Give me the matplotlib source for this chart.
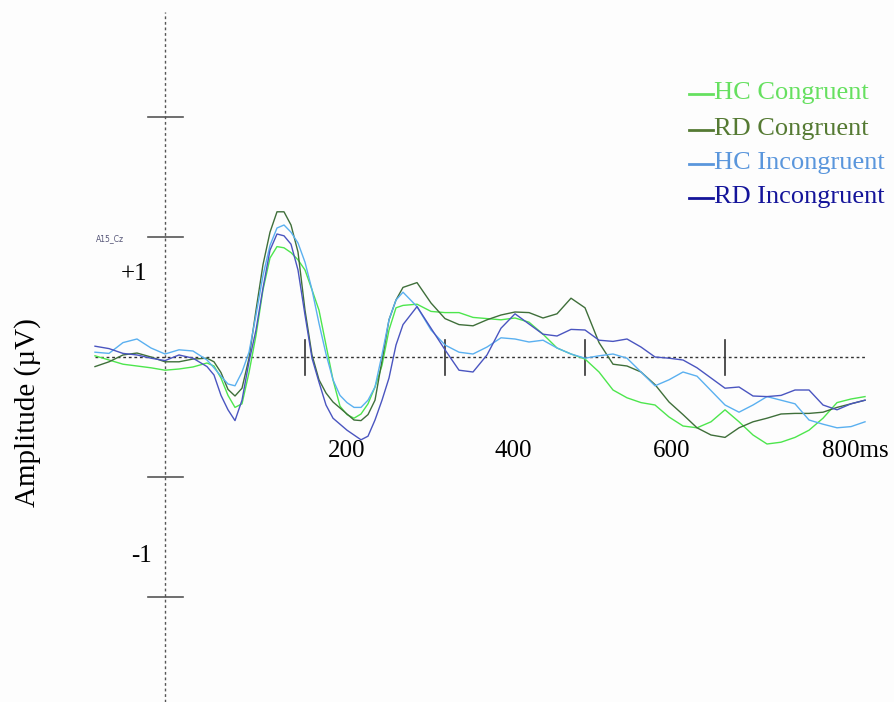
import numpy as np
import matplotlib
matplotlib.use("Agg")
import matplotlib.pyplot as plt
from matplotlib.lines import Line2D

# time points (ms)
times = [-100, -80, -60, -40, -20, 0, 20, 40, 60, 70, 80, 90, 100, 110, 120, 130,
         140, 150, 160, 170, 180, 190, 200, 210, 220, 230, 240, 250, 260, 270, 280,
         290, 300, 310, 320, 330, 340, 360, 380, 400, 420, 440, 460, 480, 500, 520,
         540, 560, 580, 600, 620, 640, 660, 680, 700, 720, 740, 760, 780, 800, 820,
         840, 860, 880, 900, 920, 940, 960, 980, 1000]

# amplitudes (uV)
hc_congruent = [0.01, -0.025, -0.06, -0.075, -0.09, -0.11, -0.10, -0.083, -0.05, -0.075,
                -0.175, -0.32, -0.42, -0.39, -0.13, 0.18, 0.56, 0.825, 0.92, 0.91, 0.87,
                0.81, 0.725, 0.56, 0.39, 0.10, -0.19, -0.41, -0.48, -0.51, -0.475, -0.39,
                -0.25, -0.07, 0.225, 0.41, 0.43, 0.44, 0.38, 0.37, 0.37, 0.33, 0.32, 0.31,
                0.325, 0.29, 0.19, 0.075, 0.025, -0.017, -0.125, -0.275, -0.34, -0.38,
                -0.40, -0.50, -0.575, -0.59, -0.54, -0.44, -0.54, -0.65, -0.725, -0.71,
                -0.67, -0.61, -0.51, -0.38, -0.35, -0.33]

rd_congruent = [-0.08, -0.04, 0.017, 0.033, 0.0, -0.04, -0.04, -0.017, -0.01, -0.04,
                -0.13, -0.27, -0.325, -0.26, -0.01, 0.39, 0.77, 1.04, 1.21, 1.21, 1.10,
                0.875, 0.39, 0.017, -0.19, -0.30, -0.375, -0.425, -0.475, -0.525, -0.53,
                -0.48, -0.36, -0.03, 0.31, 0.475, 0.58, 0.62, 0.45, 0.32, 0.27, 0.26, 0.31,
                0.35, 0.375, 0.37, 0.325, 0.36, 0.49, 0.41, 0.12, -0.06, -0.075, -0.125,
                -0.23, -0.375, -0.48, -0.59, -0.65, -0.67, -0.59, -0.54, -0.51, -0.475,
                -0.47, -0.47, -0.46, -0.42, -0.39, -0.36]

hc_incongruent = [0.04, 0.03, 0.12, 0.15, 0.075, 0.025, 0.06, 0.05, -0.025, -0.09,
                  -0.16, -0.225, -0.24, -0.125, 0.04, 0.35, 0.68, 0.93, 1.075, 1.10, 1.04,
                  0.95, 0.79, 0.56, 0.28, 0.025, -0.19, -0.32, -0.38, -0.42, -0.42, -0.36,
                  -0.25, 0.02, 0.31, 0.475, 0.54, 0.42, 0.225, 0.10, 0.04, 0.025, 0.083,
                  0.16, 0.15, 0.125, 0.14, 0.075, 0.025, -0.01, 0.01, 0.025, -0.01, -0.125,
                  -0.24, -0.19, -0.125, -0.16, -0.28, -0.40, -0.46, -0.40, -0.33, -0.36,
                  -0.39, -0.525, -0.56, -0.59, -0.58, -0.54]

rd_incongruent = [0.09, 0.07, 0.03, 0.017, -0.01, -0.03, 0.017, -0.01, -0.08, -0.15,
                  -0.32, -0.44, -0.53, -0.36, -0.04, 0.225, 0.575, 0.89, 1.025, 1.01, 0.94,
                  0.725, 0.35, -0.01, -0.21, -0.40, -0.51, -0.56, -0.61, -0.65, -0.69,
                  -0.66, -0.525, -0.36, -0.175, 0.10, 0.27, 0.42, 0.24, 0.06, -0.11, -0.125,
                  0.017, 0.24, 0.36, 0.275, 0.19, 0.175, 0.23, 0.225, 0.14, 0.13, 0.15,
                  0.083, 0.0, -0.01, -0.025, -0.09, -0.175, -0.26, -0.25, -0.325, -0.33,
                  -0.32, -0.275, -0.275, -0.40, -0.44, -0.39, -0.36]

labels = ["HC Congruent", "RD Congruent", "HC Incongruent", "RD Incongruent"]
line_colors = ["#4de64d", "#3f6f3a", "#5ab0f0", "#4a55c0"]
text_colors = ["#66e060", "#557a33", "#5a96dc", "#14149a"]
x_ticks = [200, 400, 600, 800]
x_labels = ["200", "400", "600", "800ms"]
y_ticks = [2, 1, -1, -2]

serif = "Liberation Serif"
W, H = 894, 702

fig = plt.figure(figsize=(8.94, 7.02), dpi=100)
fig.patch.set_facecolor("#fdfdfd")
ax = fig.add_axes([0, 0, 1, 1])
ax.set_facecolor("#fdfdfd")
ax.set_xlim(-235.7, 1041.4)
ax.set_ylim(-2.875, 2.975)
ax.axis("off")

# axes drawn as in the ERP viewer
ax.plot([0, 0], [-2.875, 2.875], color="#555555", lw=1.0, ls=(0, (2, 2)))
ax.plot([-100, 1000], [0, 0], color="#333333", lw=1.0, ls=(0, (2, 2)))
for v in y_ticks:
    ax.plot([-24, 26], [v, v], color="#555555", lw=1.2)
for t in x_ticks:
    ax.plot([t, t], [0.14, -0.15], color="#333333", lw=1.2)

for series, c in zip([hc_congruent, rd_congruent, hc_incongruent, rd_incongruent], line_colors):
    ax.plot(times, series, color=c, lw=1.0, solid_joinstyle="round")

# tick labels
ax.text(-44, 0.69, "+1", fontsize=18, family=serif, ha="center", va="center")
ax.text(-34, -1.66, "-1", fontsize=18, family=serif, ha="center", va="center")
xlab_pos = [347, 513, 672, 822]
for t, lab, px in zip(x_ticks, x_labels, xlab_pos):
    ax.text((px - 165) / 0.7, -0.78, lab, fontsize=18, family=serif,
            ha="left" if lab.endswith("ms") else "center", va="center")

ax.text(-79, 0.99, "A15_Cz", fontsize=5.5, color="#555577", ha="center", va="center")

fig.text(28 / W, 1 - 413 / H, "Amplitude (\u00b5V)", rotation=90, fontsize=21,
         family=serif, ha="center", va="center")

# legend
leg_y = [93, 129, 163, 197]
for lab, c, py in zip(labels, text_colors, leg_y):
    fig.lines.append(Line2D([689 / W, 713 / W], [1 - (py + 1) / H] * 2, color=c,
                            lw=2.0, transform=fig.transFigure))
    fig.text(714 / W, 1 - py / H, lab, color=c, fontsize=19,
             family=serif, ha="left", va="center")

fig.savefig("out.png", dpi=100, facecolor=fig.get_facecolor())
